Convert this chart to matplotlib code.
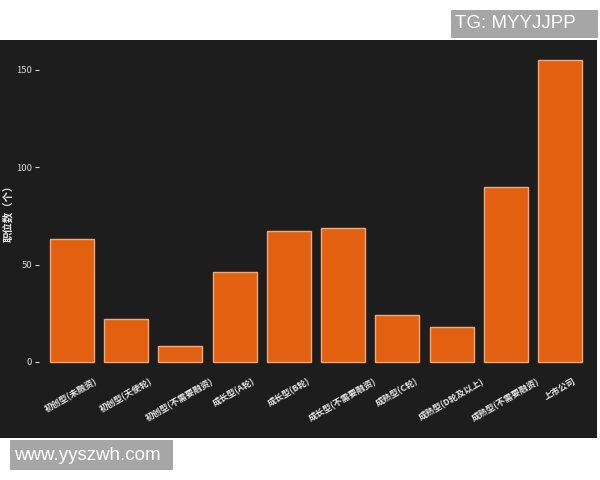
import matplotlib
matplotlib.use("Agg")
import matplotlib.pyplot as plt
from matplotlib.patches import Rectangle

plt.rcParams['font.family'] = ['Noto Sans CJK SC', 'DejaVu Sans']

categories = ["初创型(未融资)", "初创型(天使轮)", "初创型(不需要融资)", "成长型(A轮)",
              "成长型(B轮)", "成长型(不需要融资)", "成熟型(C轮)", "成熟型(D轮及以上)",
              "成熟型(不需要融资)", "上市公司"]
values = [63, 22, 8, 46, 67, 69, 24, 18, 90, 155]
yticks = [0, 50, 100, 150]
ylabel = "职位数（个）"

bg = "#1d1d1d"
W, H = 600, 480
fig = plt.figure(figsize=(6, 4.8), dpi=100, facecolor="white")
bgax = fig.add_axes([0, 42/H, 597/W, 398/H], zorder=-10)
bgax.set_facecolor(bg)
bgax.set_xticks([]); bgax.set_yticks([])
for s in bgax.spines.values():
    s.set_visible(False)

ax = fig.add_axes([39/W, 103/H, 554/W, 332/H])
ax.set_facecolor(bg)
x = range(len(categories))
ax.bar(x, values, width=0.81, color="#e2600f", edgecolor="#f0a878", linewidth=1.0)
ax.set_xlim(-0.6, len(categories) - 0.4)
ax.set_ylim(-7.75, 162.75)
ax.set_yticks(yticks)
ax.set_yticklabels([str(v) for v in yticks], fontsize=6.8, color="#d8d8d8")
ax.set_xticks(list(x))
ax.set_xticklabels(categories, rotation=30, ha="center", va="top",
                   fontsize=6.3, color="#e8e8e8", fontweight="bold")
ax.tick_params(axis="y", length=3, color="#d8d8d8", pad=2)
ax.tick_params(axis="x", length=0, pad=0)
for s in ax.spines.values():
    s.set_visible(False)
ax.set_ylabel(ylabel, fontsize=7.5, color="#e8e8e8", fontweight="bold", labelpad=2)

def watermark(x0, y0, x1, y1, tx, text):
    fig.patches.append(Rectangle((x0/W, 1 - y1/H), (x1-x0)/W, (y1-y0)/H,
                                 transform=fig.transFigure, facecolor="#a6a6a6",
                                 edgecolor="none", zorder=5))
    fig.text(tx/W, 1 - (y0+y1)/2/H, text, fontsize=13.5, color="white", va="center",
             ha="left", family="Liberation Sans", zorder=6)

watermark(451, 10, 598, 38, 455, "TG: MYYJJPP")
watermark(10, 440, 173, 470, 14, "www.yyszwh.com")

fig.savefig("out.png", dpi=100, facecolor="white")
